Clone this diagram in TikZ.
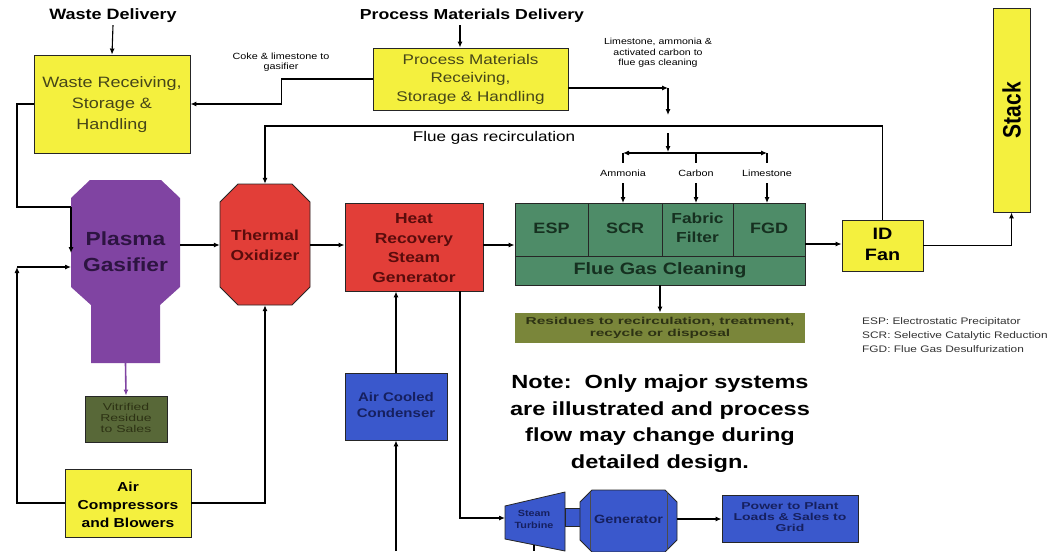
\documentclass[tikz,border=0pt]{standalone}
\usepackage{fontspec}
\usepackage{graphicx}
\setmainfont{Liberation Sans}
\usetikzlibrary{arrows.meta}
\definecolor{ybox}{RGB}{244,240,62}
\definecolor{ytext}{RGB}{70,70,25}
\definecolor{purp}{RGB}{128,68,162}
\definecolor{purptext}{RGB}{45,20,65}
\definecolor{redbox}{RGB}{226,62,56}
\definecolor{redtext}{RGB}{90,12,12}
\definecolor{greenbox}{RGB}{78,140,104}
\definecolor{greentext}{RGB}{22,48,32}
\definecolor{olive}{RGB}{122,134,58}
\definecolor{olivedark}{RGB}{88,104,56}
\definecolor{olivetext}{RGB}{45,50,20}
\definecolor{bluebox}{RGB}{58,88,204}
\definecolor{bluetext}{RGB}{22,32,95}
\newcommand{\fs}[2]{\fontsize{#1}{#2}\selectfont}
\newcommand{\wide}[2][1.2]{\scalebox{#1}[1]{\begin{tabular}{@{}c@{}}#2\end{tabular}}}
\begin{document}
\begin{tikzpicture}[x=1pt,y=-1pt,
  arr/.style={-{Latex[length=6pt,width=5pt]}, line width=1.1pt},
  ln/.style={line width=1.1pt},
  boxst/.style={draw=black!85, line width=0.9pt, align=center, inner sep=0pt},
  yb/.style={boxst, fill=ybox},
  lbl/.style={align=center, inner sep=0pt},
  tiny/.style={lbl, font=\fs{9}{10}},
]
\useasboundingbox (0,0) rectangle (1051,551);
\fill[white] (0,0) rectangle (1051,551);

% ---------- top deliveries ----------
\node[lbl, font=\bfseries\fs{15}{18}] (wd) at (113,16) {\wide{Waste Delivery}};
\node[yb, minimum width=156, minimum height=98, text=ytext, font=\fs{15}{21}] (wrs) at (112,104) {\wide{Waste Receiving,\\Storage \&\\Handling}};
\draw[arr] (wd.south) -- (wrs.north);

\node[lbl, font=\bfseries\fs{14.5}{18}] (pmd) at (472,16) {\wide[1.22]{Process Materials Delivery}};
\node[yb, minimum width=195, minimum height=62, text=ytext, font=\fs{14}{18.5}] (pm) at (470.5,79) {\wide[1.22]{Process Materials\\Receiving,\\Storage \& Handling}};
\draw[arr] ([xshift=-12pt]pmd.south) -- ([xshift=-10.5pt]pm.north);

\node[tiny] (coke) at (281,62) {\wide{Coke \& limestone to\\gasifier}};
\draw[arr] (pm.west) -- ++(-91,0) |- (wrs.east);

\node[tiny, font=\fs{8.8}{10.5}] (lime) at (658,53) {\wide{Limestone, ammonia \&\\activated carbon to\\flue gas cleaning}};
\coordinate (c1) at (668,88);
\coordinate (c2) at (668,115);
\draw[arr] (pm.east |- c1) -- (c1);
\draw[arr] (c1) -- (c2);

% ---------- main train ----------
% plasma gasifier
\fill[purp] (90,180) -- (161,180) -- (180,198) -- (180,287) -- (160,305) -- (160,363) -- (91,363) -- (91,305) -- (71,287) -- (71,198) -- cycle;
\node[lbl, text=purptext, font=\bfseries\fs{19}{26}] (pg) at (125.5,253) {\wide{Plasma\\Gasifier}};
\coordinate (pgbot) at (125.5,363);

% thermal oxidizer
\node[lbl, minimum width=90, minimum height=121] (tox) at (265,244.5) {};
\filldraw[fill=redbox, draw=black!85, line width=0.9pt]
  (238,184) -- (292,184) -- (310,202) -- (310,287) -- (292,305) -- (238,305) -- (220,287) -- (220,202) -- cycle;
\node[lbl, text=redtext, font=\bfseries\fs{14.5}{19.5}] (toxt) at (265,246.5) {\wide{Thermal\\Oxidizer}};

% HRSG
\node[boxst, fill=redbox, minimum width=138, minimum height=88, text=redtext, font=\bfseries\fs{14.5}{19.5}] (hrsg) at (414,247) {};
\node[lbl, text=redtext, font=\bfseries\fs{14.5}{19.5}] (hrsgt) at (414,249) {\wide{Heat\\Recovery\\Steam\\Generator}};

% flue gas cleaning
\node[boxst, fill=greenbox, minimum width=290, minimum height=82] (fgcall) at (660,244) {};
\draw[black!85, line width=0.9pt] (515,256) -- (805,256);
\draw[black!85, line width=0.9pt] (588,203) -- (588,256) (662,203) -- (662,256) (733,203) -- (733,256);
\node[lbl, text=greentext, font=\bfseries\fs{15}{18}] (esp) at (551.5,230) {\wide{ESP}};
\node[lbl, text=greentext, font=\bfseries\fs{15}{18}] (scr) at (625,230) {\wide{SCR}};
\node[lbl, text=greentext, font=\bfseries\fs{14.5}{19}] (ff) at (697.5,229.5) {\wide{Fabric\\Filter}};
\node[lbl, text=greentext, font=\bfseries\fs{15}{18}] (fgd) at (769,230) {\wide{FGD}};
\node[lbl, text=greentext, font=\bfseries\fs{16.5}{18}] (fgc) at (660,270.5) {\wide{Flue Gas Cleaning}};

% ID fan and stack
\node[yb, minimum width=81, minimum height=51, font=\bfseries\fs{16.5}{21}] (idf) at (882.5,245.5) {\wide{ID\\Fan}};
\node[yb, minimum width=37, minimum height=204, font=\bfseries\fs{21}{22}] (stack) at (1011.5,110) {\rotatebox{90}{\scalebox{1}[1.2]{Stack}}};

% residues
\node[boxst, draw=none, fill=olive, minimum width=290, minimum height=30, text=olivetext, font=\bfseries\fs{10}{11.5}] (res) at (660,328) {\wide[1.55]{Residues to recirculation, treatment,\\recycle or disposal}};

% main flow arrows
\draw[arr] (180,245) -- (tox.west |- 0,245);
\draw[arr] (310,245) -- (hrsg.west |- 0,245);
\draw[arr] (hrsg.east |- 0,245) -- (fgcall.west |- 0,245);
\draw[arr] (fgcall.east) -- (fgcall.east -| idf.west);
\draw[arr] (idf.east) -| (stack.south);
\draw[arr] (fgcall.south) -- (res.north);

% flue gas recirculation
\node[lbl, font=\fs{14}{16}] (fgr) at (494,138) {\wide[1.22]{Flue gas recirculation}};
\coordinate (r1) at (882.5,126);
\coordinate (r2) at (265,126);
\draw[arr] (idf.north) -- (r1) -- (r2) -- (tox.north);

% reagent distribution
\coordinate (d0) at (668,133);
\coordinate (d1) at (668,152);
\draw[arr] (d0) -- (d1);
\coordinate (bl) at (623,153);
\coordinate (br) at (767,153);
\draw[{Latex[length=6pt,width=5pt]}-{Latex[length=6pt,width=5pt]}, line width=1.1pt] (bl) -- (br);
\draw[ln] (bl) -- ++(0,10) (696,153) -- (696,163) (br) -- ++(0,10);
\node[tiny] (amm) at (623,174) {\wide{Ammonia}};
\node[tiny] (carb) at (696,174) {\wide{Carbon}};
\node[tiny] (limst) at (767,174) {\wide{Limestone}};
\draw[arr] (623,183) -- (623,203);
\draw[arr] (696,183) -- (696,203);
\draw[arr] (767,183) -- (767,203);

% legend
\node[anchor=west, inner sep=0pt, text=black!80, font=\fs{9.5}{11}] (lg1) at (862,322) {\scalebox{1.25}[1]{ESP: Electrostatic Precipitator}};
\node[anchor=west, inner sep=0pt, text=black!80, font=\fs{9.5}{11}] (lg2) at (862,336) {\scalebox{1.25}[1]{SCR: Selective Catalytic Reduction}};
\node[anchor=west, inner sep=0pt, text=black!80, font=\fs{9.5}{11}] (lg3) at (862,349) {\scalebox{1.25}[1]{FGD: Flue Gas Desulfurization}};

% note
\node[lbl, font=\bfseries\fs{19}{26.5}] (note) at (660,423) {\wide[1.24]{Note:\ \ Only major systems\\are illustrated and process\\flow may change during\\detailed design.}};

% ---------- left side ----------
\node[boxst, fill=olivedark, minimum width=82, minimum height=46, text=olivetext, font=\fs{10}{11}] (vit) at (126,419) {\wide[1.4]{Vitrified\\Residue\\to Sales}};
\draw[-{Latex[length=6pt,width=5pt]}, line width=1.6pt, purp] (pgbot) -- (vit.north);

\node[yb, minimum width=126, minimum height=68, font=\bfseries\fs{13}{18}] (air) at (128,503) {};
\node[lbl, font=\bfseries\fs{13}{18}] (airt) at (128,506) {\wide{Air\\Compressors\\and Blowers}};

\coordinate (w1) at (17,104);
\coordinate (w2) at (17,207);
\coordinate (w3) at (71,207);
\coordinate (w4) at (71,253);
\draw[ln] (wrs.west) -- (w1) -- (w2) -- (w3);
\draw[arr] (w3) -- (w4);

\coordinate (a1) at (17,503);
\coordinate (a2) at (17,267);
\coordinate (a3) at (71,267);
\draw[arr] (air.west) -- (a1) -- (a2);
\draw[arr] (a2) -- (a3);
\draw[arr] (air.east) -| (tox.south);

% ---------- steam cycle ----------
\node[boxst, fill=bluebox, minimum width=102, minimum height=67, text=bluetext, font=\bfseries\fs{12.5}{16}] (acc) at (396,406.5) {\wide{Air Cooled\\Condenser}};
\draw[arr] (acc.north) -- (acc.north |- hrsg.south);
\coordinate (cin) at (396,551);
\draw[arr] (cin) -- (acc.south);

\filldraw[fill=bluebox, draw=black!85, line width=0.8pt] (505,506) -- (565,492) -- (565,551) -- (505,539) -- cycle;
\node[lbl, text=bluetext, font=\bfseries\fs{9}{12}] (st) at (534,520) {\wide{Steam\\Turbine}};
\filldraw[fill=bluebox, draw=black!85, line width=0.8pt] (565,508) rectangle (580,526);
\filldraw[fill=bluebox, draw=black!85, line width=0.8pt] (592,490) -- (665,490) -- (677,502) -- (677,540) -- (665,552) -- (592,552) -- (580,540) -- (580,502) -- cycle;
\draw[black!70, line width=0.6pt] (590,492) -- (590,550) (667,492) -- (667,550);
\node[lbl, text=bluetext, font=\bfseries\fs{12}{14}] (gen) at (628.5,521) {\wide{Generator}};
\node[boxst, fill=bluebox, minimum width=136, minimum height=47, text=bluetext, font=\bfseries\fs{10}{11}] (pwr) at (790,518.5) {\wide[1.4]{Power to Plant\\Loads \& Sales to\\Grid}};

\coordinate (h1) at (460,291);
\coordinate (h2) at (460,518);
\draw[arr] (h1) -- (h2) -- (505,518);
\draw[arr] (677,519) -- (pwr.west |- 0,519);
\coordinate (t1) at (534,545);
\coordinate (t2) at (534,551);
\draw[ln] (t1) -- (t2);
\end{tikzpicture}
\end{document}
